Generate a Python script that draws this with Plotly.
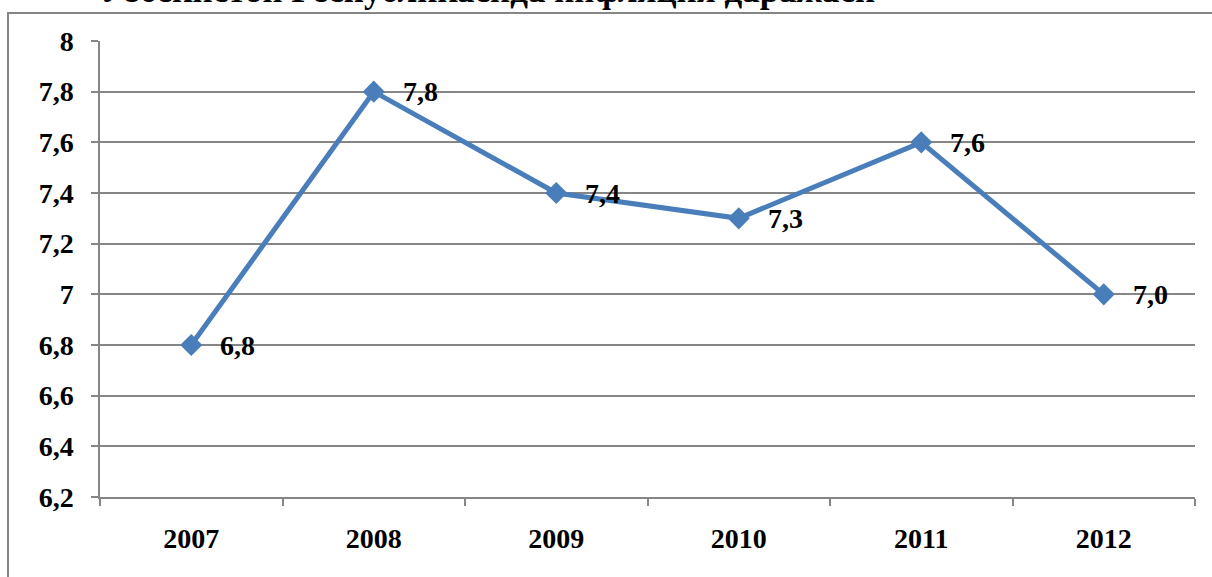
import plotly.graph_objects as go

years = ["2007", "2008", "2009", "2010", "2011", "2012"]
inflation = [6.8, 7.8, 7.4, 7.3, 7.6, 7.0]
value_labels = ["6,8", "7,8", "7,4", "7,3", "7,6", "7,0"]
y_tick_vals = [6.2, 6.4, 6.6, 6.8, 7.0, 7.2, 7.4, 7.6, 7.8, 8.0]
y_tick_text = ["6,2", "6,4", "6,6", "6,8", "7", "7,2", "7,4", "7,6", "7,8", "8"]
title_text = "Ўзбекистон Республикасида инфляция даражаси"

W, H = 1212, 577
L, R, T, B = 100, 17, 41, 80
pw, ph = W - L - R, H - T - B

def px_x(px):
    return (px - L) / pw

def px_y(py):
    return (H - B - py) / ph

fnt = dict(family="Liberation Serif", size=28, color="black")

fig = go.Figure()
fig.add_trace(go.Scatter(
    x=years, y=inflation, mode="lines+markers",
    line=dict(color="#4A7EBB", width=5),
    marker=dict(symbol="diamond", size=17, color="#4A7EBB"),
    hoverinfo="skip", showlegend=False,
))

for i, (v, lab) in enumerate(zip(inflation, value_labels)):
    fig.add_annotation(x=i, y=v, text="<b>%s</b>" % lab, showarrow=False,
                       xanchor="left", yanchor="middle", xshift=27, yshift=0,
                       font=fnt)

fig.add_annotation(xref="paper", yref="paper", x=px_x(98), y=px_y(12),
                   xanchor="left", yanchor="bottom", showarrow=False,
                   text="<b>%s</b>" % title_text,
                   font=dict(family="Liberation Serif", size=35, color="black"))

fig.add_shape(type="rect", xref="paper", yref="paper",
              x0=px_x(8), x1=px_x(1240), y0=px_y(13), y1=px_y(600),
              line=dict(color="#868686", width=2), fillcolor="rgba(0,0,0,0)",
              layer="below")

fig.update_layout(
    width=W, height=H,
    margin=dict(l=L, r=R, t=T, b=B, pad=0),
    plot_bgcolor="white", paper_bgcolor="white",
    font=fnt,
    xaxis=dict(
        type="category", showgrid=False, showline=True, linecolor="#868686",
        linewidth=1.5, ticks="outside", tickson="boundaries", ticklen=7,
        tickcolor="#868686", tickwidth=1.5,
        tickfont=dict(family="Liberation Serif", size=28, color="black"),
        tickvals=years, ticktext=["<b>%s</b>" % y for y in years],
        ticklabelstandoff=16, range=[-0.5, 5.5], fixedrange=True,
    ),
    yaxis=dict(
        range=[6.2, 8.0], showgrid=True, gridcolor="#868686", gridwidth=1.5,
        showline=True, linecolor="#868686", linewidth=1.5, ticks="outside",
        ticklen=7, tickcolor="#868686", tickwidth=1.5,
        tickvals=y_tick_vals, ticktext=["<b>%s</b>" % t for t in y_tick_text],
        tickfont=dict(family="Liberation Serif", size=28, color="black"),
        ticklabelstandoff=12, zeroline=False, fixedrange=True,
    ),
)

fig.write_html("out.html", config={"displayModeBar": False},
               post_script="document.body.style.margin='0';document.body.style.overflow='hidden';")
